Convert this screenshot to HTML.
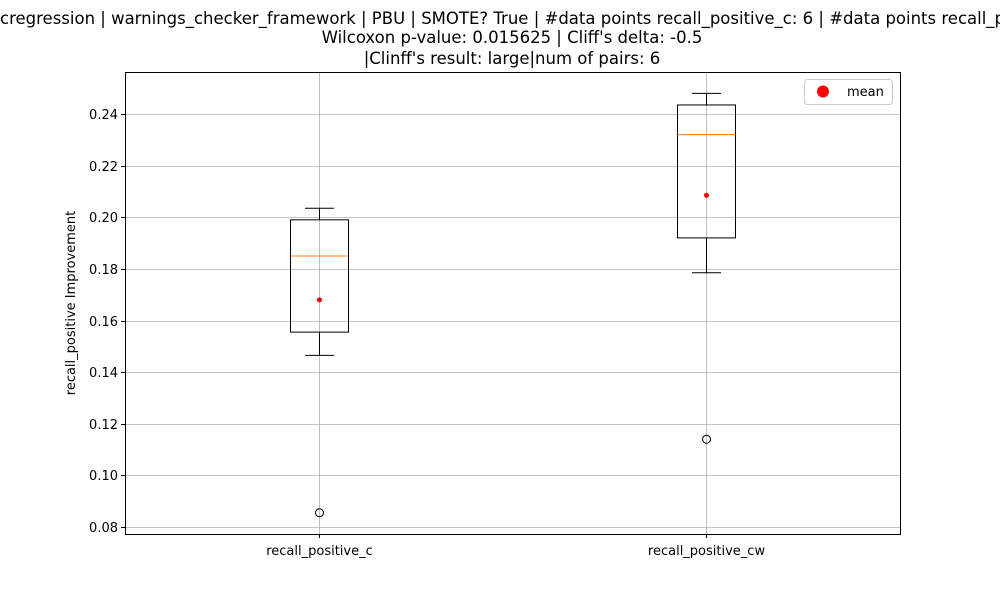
<!DOCTYPE html>
<html><head><meta charset="utf-8"><style>
html,body{margin:0;padding:0;background:#fff;overflow:hidden;}
svg{display:block;font-family:"DejaVu Sans","Liberation Sans",sans-serif;}
</style></head><body>
<svg id="chart" width="1000" height="600" viewBox="0 0 1000 600" xmlns="http://www.w3.org/2000/svg">
<rect width="1000" height="600" fill="#fff"/>
<g font-size="16.5" text-anchor="middle" fill="#000">
<text x="0" y="24" text-anchor="start">cregression | warnings_checker_framework | PBU | SMOTE? True | #data points recall_positive_c: 6 | #data points recall_positive_cw: 6</text>
<text x="512" y="43">Wilcoxon p-value: 0.015625 | Cliff's delta: -0.5</text>
<text x="512" y="64">|Clinff's result: large|num of pairs: 6</text>
</g>
<g id="grid"></g>
<g id="marks"></g>
<rect x="125.5" y="72.5" width="775" height="462" fill="none" stroke="#000" stroke-width="1"/>
<g id="axes"></g>
<text transform="translate(75,303) rotate(-90)" text-anchor="middle" font-size="13">recall_positive Improvement</text>
<g>
<rect x="804.5" y="79.5" width="88" height="25" rx="3" fill="#fff" stroke="#ccc"/>
<circle cx="823" cy="91.5" r="6" fill="red"/>
<text x="847" y="96" font-size="13">mean</text>
</g>
</svg>
<script>
const categories = ["recall_positive_c", "recall_positive_cw"];
const whiskerLow = [0.1465, 0.1785];
const q1 = [0.1555, 0.192];
const medians = [0.185, 0.232];
const q3 = [0.199, 0.2435];
const whiskerHigh = [0.2035, 0.248];
const means = [0.168, 0.2085];
const outliers = [[0.0855], [0.114]];
const yTicks = [0.08, 0.10, 0.12, 0.14, 0.16, 0.18, 0.20, 0.22, 0.24];

const NS = "http://www.w3.org/2000/svg";
const yScale = v => 527 - (v - 0.08) / 0.02 * 51.625;
const xScale = i => 319 + i * 387;
function mk(tag, attrs, parent) {
  const e = document.createElementNS(NS, tag);
  for (const k in attrs) e.setAttribute(k, attrs[k]);
  parent.appendChild(e);
  return e;
}
const grid = document.getElementById('grid');
const axes = document.getElementById('axes');
const marks = document.getElementById('marks');
yTicks.forEach(t => {
  const y = Math.round(yScale(t)) + 0.5;
  const g = mk('line', {x1:125, x2:900, y1:y, y2:y, stroke:'#b0b0b0', 'stroke-width':0.8}, grid);
  
  
  const tk = mk('line', {x1:121, x2:125, y1:y, y2:y, stroke:'#000'}, axes);
  
  
  const tx = mk('text', {x:118, y:y+4.5, 'text-anchor':'end', 'font-size':13}, axes);
  tx.textContent = t.toFixed(2);
  
  
});
categories.forEach((c, i) => {
  const x = Math.round(xScale(i)) + 0.5;
  const g = mk('line', {x1:x, x2:x, y1:72, y2:534, stroke:'#b0b0b0', 'stroke-width':0.8}, grid);
  
  
  const tk = mk('line', {x1:x, x2:x, y1:534, y2:538, stroke:'#000'}, axes);
  
  
  const tx = mk('text', {x:x, y:555, 'text-anchor':'middle', 'font-size':13}, axes);
  tx.textContent = c;
  
  

  const bw = 58, cw = 29;
  const w1 = mk('line', {x1:x, x2:x, y1:yScale(whiskerLow[i]), y2:yScale(q1[i]), stroke:'#000'}, marks);
  
  
  const w2 = mk('line', {x1:x, x2:x, y1:yScale(q3[i]), y2:yScale(whiskerHigh[i]), stroke:'#000'}, marks);
  
  
  const c1 = mk('line', {x1:x-cw/2, x2:x+cw/2, y1:yScale(whiskerLow[i]), y2:yScale(whiskerLow[i]), stroke:'#000'}, marks);
  
  
  const c2 = mk('line', {x1:x-cw/2, x2:x+cw/2, y1:yScale(whiskerHigh[i]), y2:yScale(whiskerHigh[i]), stroke:'#000'}, marks);
  
  
  const b = mk('rect', {x:x-bw/2, y:yScale(q3[i]), width:bw, height:yScale(q1[i])-yScale(q3[i]), fill:'none', stroke:'#000'}, marks);
  
  
  const m = mk('line', {x1:x-bw/2, x2:x+bw/2, y1:yScale(medians[i]), y2:yScale(medians[i]), stroke:'#ff7f0e'}, marks);
  
  
  const mn = mk('circle', {cx:x, cy:yScale(means[i]), r:2.5, fill:'red'}, marks);
  
  
  outliers[i].forEach(o => {
    const oc = mk('circle', {cx:x, cy:yScale(o), r:4, fill:'none', stroke:'#000'}, marks);
    
    
  });
});
</script>
</body></html>
